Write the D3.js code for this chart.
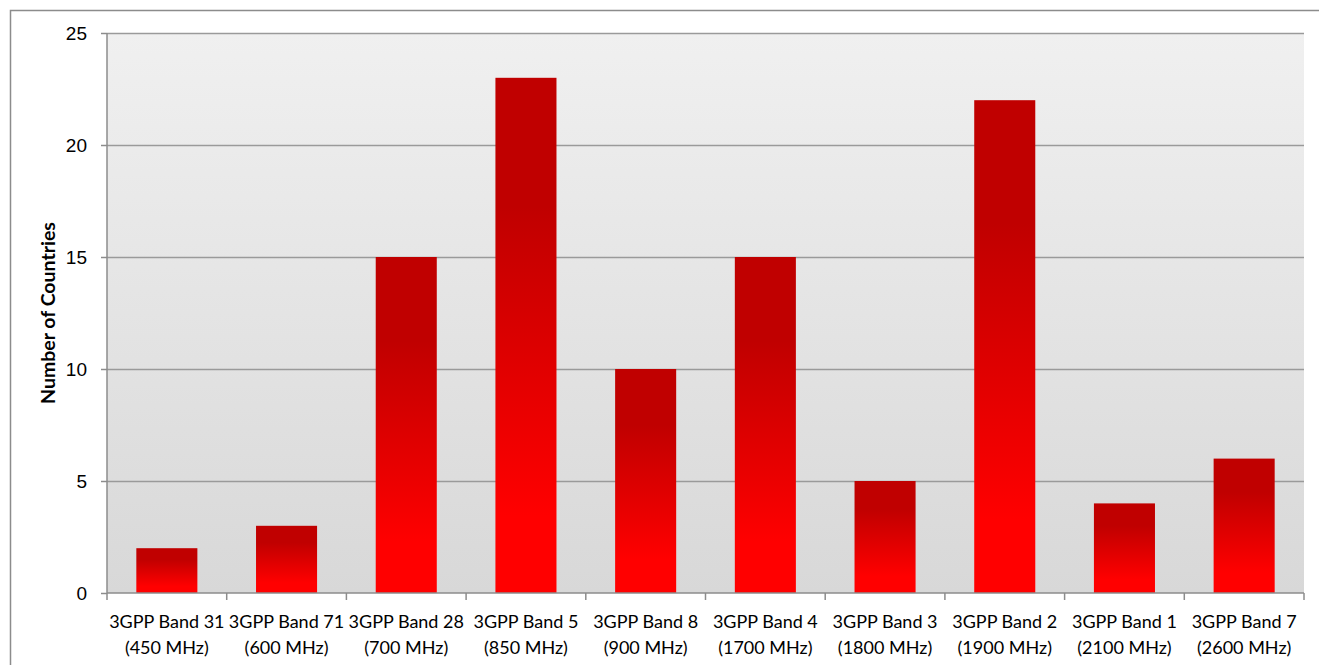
<!DOCTYPE html>
<html>
<head>
<meta charset="utf-8">
<script src="https://cdn.jsdelivr.net/npm/d3@7"></script>
<style>
  body { margin: 0; background: #fff; }
  svg { display: block; font-family: Lato, "Open Sans", sans-serif; }
  .axis path, .axis line { stroke: #8c8c8c; stroke-width: 1.5; }
  .axis text { fill: #000; font-size: 19px; }
  .grid line { stroke: #9a9a9a; stroke-width: 1.5; }
  .grid path { display: none; }
</style>
</head>
<body>
<svg width="1319" height="665"></svg>
<script>
var bands = ["3GPP Band 31", "3GPP Band 71", "3GPP Band 28", "3GPP Band 5", "3GPP Band 8",
             "3GPP Band 4", "3GPP Band 3", "3GPP Band 2", "3GPP Band 1", "3GPP Band 7"];
var freqs = ["(450 MHz)", "(600 MHz)", "(700 MHz)", "(850 MHz)", "(900 MHz)",
             "(1700 MHz)", "(1800 MHz)", "(1900 MHz)", "(2100 MHz)", "(2600 MHz)"];
var countries = [2, 3, 15, 23, 10, 15, 5, 22, 4, 6];
var yTicks = [0, 5, 10, 15, 20, 25];

var data = bands.map(function(b, i) { return {band: b, freq: freqs[i], value: countries[i]}; });

var margin = {left: 107, top: 33, right: 15, bottom: 72};
var svg = d3.select("svg");
var width  = 1319 - margin.left - margin.right;
var height = 665 - margin.top - margin.bottom;

// outer chart border (cropped on right and bottom)
svg.append("rect")
    .attr("x", 10.5).attr("y", 10.5)
    .attr("width", 1400).attr("height", 800)
    .attr("fill", "none")
    .attr("stroke", "#8c8c8c")
    .attr("stroke-width", 1.5);

var defs = svg.append("defs");
var bg = defs.append("linearGradient").attr("id", "bgGrad")
    .attr("x1", 0).attr("y1", 0).attr("x2", 0).attr("y2", 1);
bg.append("stop").attr("offset", "0%").attr("stop-color", "#f0f0f0");
bg.append("stop").attr("offset", "100%").attr("stop-color", "#d8d8d8");

var barGrad = defs.append("linearGradient").attr("id", "barGrad")
    .attr("x1", 0).attr("y1", 0).attr("x2", 0).attr("y2", 1);
barGrad.append("stop").attr("offset", "0%").attr("stop-color", "#c00000");
barGrad.append("stop").attr("offset", "25%").attr("stop-color", "#c00000");
barGrad.append("stop").attr("offset", "85%").attr("stop-color", "#ff0000");
barGrad.append("stop").attr("offset", "100%").attr("stop-color", "#ff0000");

var g = svg.append("g")
    .attr("transform", "translate(" + margin.left + "," + margin.top + ")");

var xScale = d3.scaleBand()
    .domain(bands)
    .range([0, width])
    .paddingInner(0.49)
    .paddingOuter(0.245);
var yScale = d3.scaleLinear()
    .domain([0, 25])
    .range([height, 0]);

g.append("rect")
    .attr("width", width)
    .attr("height", height)
    .attr("fill", "url(#bgGrad)");

g.append("g")
    .attr("class", "grid")
    .call(d3.axisLeft(yScale).tickValues(yTicks.slice(1)).tickSize(-width).tickFormat(""));

g.selectAll(".bar")
    .data(data)
    .enter().append("rect")
    .attr("class", "bar")
    .attr("x", function(d) { return xScale(d.band); })
    .attr("y", function(d) { return yScale(d.value); })
    .attr("width", xScale.bandwidth())
    .attr("height", function(d) { return height - yScale(d.value); })
    .attr("fill", "url(#barGrad)");

// y axis
var yAxis = g.append("g")
    .attr("class", "axis")
    .call(d3.axisLeft(yScale).tickValues(yTicks).tickSize(6).tickPadding(14).tickSizeOuter(0));
yAxis.select(".domain").attr("d", "M0," + height + "V0");

// x axis: ticks at category boundaries
var step = xScale.step();
var xAxis = g.append("g")
    .attr("class", "axis")
    .attr("transform", "translate(0," + height + ")");
xAxis.append("path").attr("class", "domain")
    .attr("d", "M0,0H" + width).attr("fill", "none");
xAxis.selectAll(".tick")
    .data(d3.range(bands.length + 1))
    .enter().append("line")
    .attr("x1", function(i) { return i * step; })
    .attr("x2", function(i) { return i * step; })
    .attr("y1", 0).attr("y2", 7);

var labels = xAxis.selectAll(".lbl")
    .data(data)
    .enter().append("text")
    .attr("class", "lbl")
    .attr("text-anchor", "middle")
    .attr("x", function(d) { return xScale(d.band) + xScale.bandwidth() / 2; })
    .attr("y", 35)
    .style("font-size", "18px");
labels.append("tspan").text(function(d) { return d.band; });
labels.append("tspan")
    .attr("x", function(d) { return xScale(d.band) + xScale.bandwidth() / 2; })
    .attr("dy", 26)
    .text(function(d) { return d.freq; });

svg.append("text")
    .attr("transform", "translate(55," + (margin.top + height / 2) + ") rotate(-90)")
    .attr("text-anchor", "middle")
    .style("font-size", "19.5px")
    .style("font-weight", "bold")
    .text("Number of Countries");
</script>
</body>
</html>
